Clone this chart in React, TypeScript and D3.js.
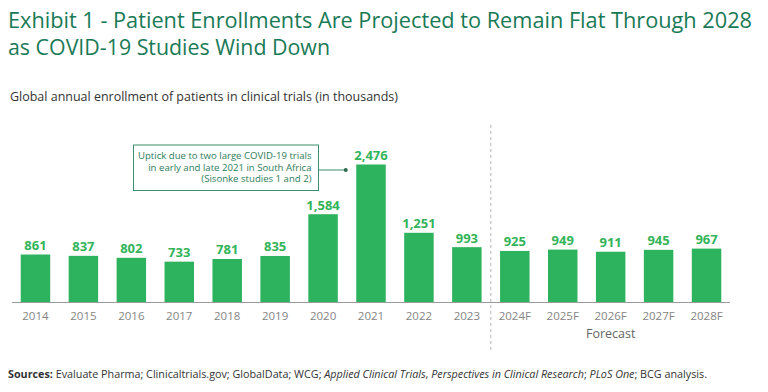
import React from 'react';
import * as d3 from 'd3';

const years = ['2014', '2015', '2016', '2017', '2018', '2019', '2020', '2021', '2022', '2023', '2024F', '2025F', '2026F', '2027F', '2028F'];
const enrollments = [861, 837, 802, 733, 781, 835, 1584, 2476, 1251, 993, 925, 949, 911, 945, 967];
const forecastYears = ['2024F', '2025F', '2026F', '2027F', '2028F'];
const noteLines = [
    'Uptick due to two large COVID-19 trials',
    'in early and late 2021 in South Africa',
    '(Sisonke studies 1 and 2)',
];

const W = 768;
const H = 392;
const FONT = "'Open Sans', 'Noto Sans', sans-serif";

export default function App() {
    const baseline = 302.5;

    // x, y scale
    const x = d3.scaleBand<string>()
        .domain(years)
        .range([11.5, 730.5])
        .paddingInner(0.385)
        .paddingOuter(0.1925);

    const y = d3.scaleLinear()
        .domain([0, 2476])
        .range([baseline, 164.5]);

    const fmt = d3.format(',');

    const firstF = x(forecastYears[0])!;
    const lastF = x(forecastYears[forecastYears.length - 1])!;
    const dividerX = firstF - (x.step() - x.bandwidth()) / 2;
    const forecastMid = (firstF + lastF + x.bandwidth()) / 2;

    const peakX = x('2021')!;

    return (
        <svg width={W} height={H} style={{ position: 'absolute', left: 0, top: 0, fontFamily: FONT }}>
            <rect width={W} height={H} fill="#fff" />

            {/* title */}
            <text x={8} y={28} fontSize={21} fill="#197a56" textLength={744} lengthAdjust="spacingAndGlyphs">
                Exhibit 1 - Patient Enrollments Are Projected to Remain Flat Through 2028
            </text>
            <text x={8} y={55} fontSize={21} fill="#197a56" textLength={322} lengthAdjust="spacingAndGlyphs">
                as COVID-19 Studies Wind Down
            </text>
            <text x={10} y={101} fontSize={12.5} fill="#333" textLength={388} lengthAdjust="spacingAndGlyphs">
                Global annual enrollment of patients in clinical trials (in thousands)
            </text>

            {/* forecast divider */}
            <line x1={dividerX} x2={dividerX} y1={125} y2={350} stroke="#b5b5b5" strokeWidth={1} strokeDasharray="3,3" />

            {/* bars */}
            {years.map((yr, i) => (
                <rect key={yr} x={x(yr)} y={y(enrollments[i])} width={x.bandwidth()}
                    height={baseline - y(enrollments[i])} fill="#2db35d" />
            ))}

            {/* value labels */}
            {years.map((yr, i) => (
                <text key={yr} x={x(yr)! + x.bandwidth() / 2} y={y(enrollments[i]) - 4.5}
                    textAnchor="middle" fontSize={13} fontWeight={700} fill="#32b45a">
                    {fmt(enrollments[i])}
                </text>
            ))}

            {/* x axis */}
            <line x1={12} x2={730} y1={baseline} y2={baseline} stroke="#9a9a9a" strokeWidth={1} />
            {years.map((yr) => (
                <text key={yr} x={x(yr)! + x.bandwidth() / 2} y={320} textAnchor="middle"
                    fontSize={11.5} fill="#858585">
                    {yr}
                </text>
            ))}
            <text x={forecastMid} y={338} textAnchor="middle" fontSize={12.5} fill="#666">Forecast</text>

            {/* annotation */}
            <rect x={133.5} y={145} width={185} height={45.5} fill="#fff" stroke="#3a8f6c" strokeWidth={1} />
            {noteLines.map((t, i) => (
                <text key={t} x={311.5} y={159 + i * 11.6} textAnchor="end" fontSize={9.6} fill="#2e7d5b">{t}</text>
            ))}
            <line x1={318.5} x2={peakX - 10.5} y1={170} y2={170} stroke="#3a8f6c" strokeWidth={1} />
            <circle cx={peakX - 10.5} cy={170} r={2} fill="#2e6b52" />

            {/* sources */}
            <text x={8} y={378} fontSize={10.5} fill="#333" textLength={699} lengthAdjust="spacingAndGlyphs">
                <tspan fontWeight={700}>Sources: </tspan>
                <tspan>Evaluate Pharma; Clinicaltrials.gov; GlobalData; WCG; </tspan>
                <tspan fontStyle="italic">Applied Clinical Trials</tspan>
                <tspan>, </tspan>
                <tspan fontStyle="italic">Perspectives in Clinical Research</tspan>
                <tspan>; </tspan>
                <tspan fontStyle="italic">PLoS One</tspan>
                <tspan>; BCG analysis.</tspan>
            </text>
        </svg>
    );
}
